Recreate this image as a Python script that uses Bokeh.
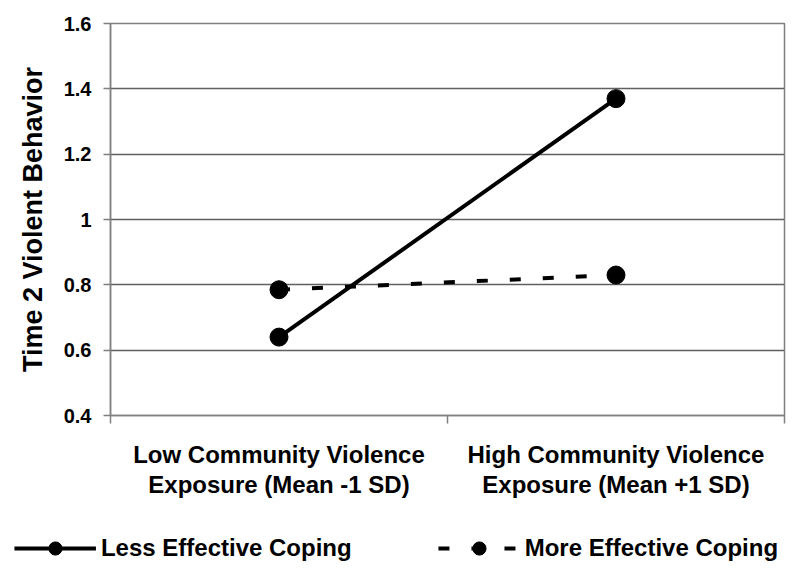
from bokeh.plotting import figure
from bokeh.layouts import column, row
from bokeh.models import Range1d, FixedTicker, Legend, LegendItem
from bokeh.embed import file_html
from bokeh.resources import INLINE

categories = ["Low Community Violence\nExposure (Mean -1 SD)",
              "High Community Violence\nExposure (Mean +1 SD)"]
series_names = ["Less Effective Coping", "More Effective Coping"]
less_effective = [0.64, 1.37]
more_effective = [0.785, 0.83]
y_ticks = [0.4, 0.6, 0.8, 1.0, 1.2, 1.4, 1.6]
y_tick_labels = ["0.4", "0.6", "0.8", "1", "1.2", "1.4", "1.6"]

xs = [i + 0.5 for i in range(len(categories))]
FONT = "Liberation Sans"

p = figure(width=792, height=520, output_backend="svg", toolbar_location=None,
           x_range=Range1d(0, len(categories)), y_range=Range1d(0.4, 1.6),
           min_border_left=110, min_border_right=8, min_border_top=23, min_border_bottom=105)

p.outline_line_color = "#808080"
p.outline_line_width = 1.5
p.xgrid.visible = False
p.ygrid.grid_line_color = "#606060"
p.ygrid.grid_line_width = 1.5
p.ygrid.ticker = FixedTicker(ticks=y_ticks)

# y axis
p.yaxis.ticker = FixedTicker(ticks=y_ticks)
p.yaxis.major_label_overrides = {t: l for t, l in zip(y_ticks, y_tick_labels)}
p.yaxis.axis_label = "Time 2 Violent Behavior"
p.yaxis.axis_label_text_font = FONT
p.yaxis.axis_label_text_font_style = "bold"
p.yaxis.axis_label_text_font_size = "27px"
p.yaxis.axis_label_text_color = "black"
p.yaxis.axis_label_standoff = 13
p.yaxis.major_label_text_font = FONT
p.yaxis.major_label_text_font_style = "bold"
p.yaxis.major_label_text_font_size = "20px"
p.yaxis.major_label_text_color = "black"
p.yaxis.major_label_standoff = 12
p.yaxis.axis_line_color = "#808080"
p.yaxis.axis_line_width = 1.5
p.yaxis.major_tick_line_color = "#808080"
p.yaxis.major_tick_line_width = 1.5
p.yaxis.major_tick_out = 7
p.yaxis.major_tick_in = 0
p.yaxis.minor_tick_line_color = None

# x axis
p.xaxis.ticker = FixedTicker(ticks=xs, minor_ticks=list(range(len(categories) + 1)))
p.xaxis.major_label_overrides = {x: c for x, c in zip(xs, categories)}
p.xaxis.major_label_text_font = FONT
p.xaxis.major_label_text_font_style = "bold"
p.xaxis.major_label_text_font_size = "24px"
p.xaxis.major_label_text_color = "black"
p.xaxis.major_label_text_line_height = 1.12
p.xaxis.major_label_standoff = 17
p.xaxis.major_tick_line_color = None
p.xaxis.major_tick_out = 0
p.xaxis.major_tick_in = 0
p.xaxis.minor_tick_line_color = "#808080"
p.xaxis.minor_tick_line_width = 1.5
p.xaxis.minor_tick_out = 8
p.xaxis.minor_tick_in = 0
p.xaxis.axis_line_color = "#808080"
p.xaxis.axis_line_width = 1.5

p.line(xs, less_effective, line_color="black", line_width=4)
p.scatter(xs, less_effective, size=18, color="black")
p.line(xs, more_effective, line_color="black", line_width=4, line_dash="11 22")
p.scatter(xs, more_effective, size=18, color="black")

# legend strip: same series drawn outside its visible range, only the legend shows
lg = figure(width=792, height=55, output_backend="svg", toolbar_location=None,
            x_range=Range1d(10, 11), y_range=Range1d(10, 11),
            min_border_left=0, min_border_right=0, min_border_top=0, min_border_bottom=0)
lg.axis.visible = False
lg.grid.visible = False
lg.outline_line_color = None
a1 = lg.line(xs, less_effective, line_color="black", line_width=4)
b1 = lg.scatter(xs, less_effective, size=18, color="black")
a2 = lg.line(xs, more_effective, line_color="black", line_width=4, line_dash="11 22")
b2 = lg.scatter(xs, more_effective, size=18, color="black")

legend = Legend(items=[LegendItem(label=series_names[0], renderers=[a1, b1]),
                       LegendItem(label=series_names[1], renderers=[a2, b2])],
                orientation="horizontal", location="center",
                glyph_width=82, glyph_height=33, spacing=86, label_standoff=5,
                padding=0, margin=0, border_line_color=None, background_fill_alpha=0,
                label_text_font=FONT, label_text_font_style="bold",
                label_text_font_size="24px", label_text_color="black")
lg.add_layout(legend, "center")

layout = column(p, row(lg), spacing=0)
open("out.html", "w").write(file_html(layout, INLINE))
